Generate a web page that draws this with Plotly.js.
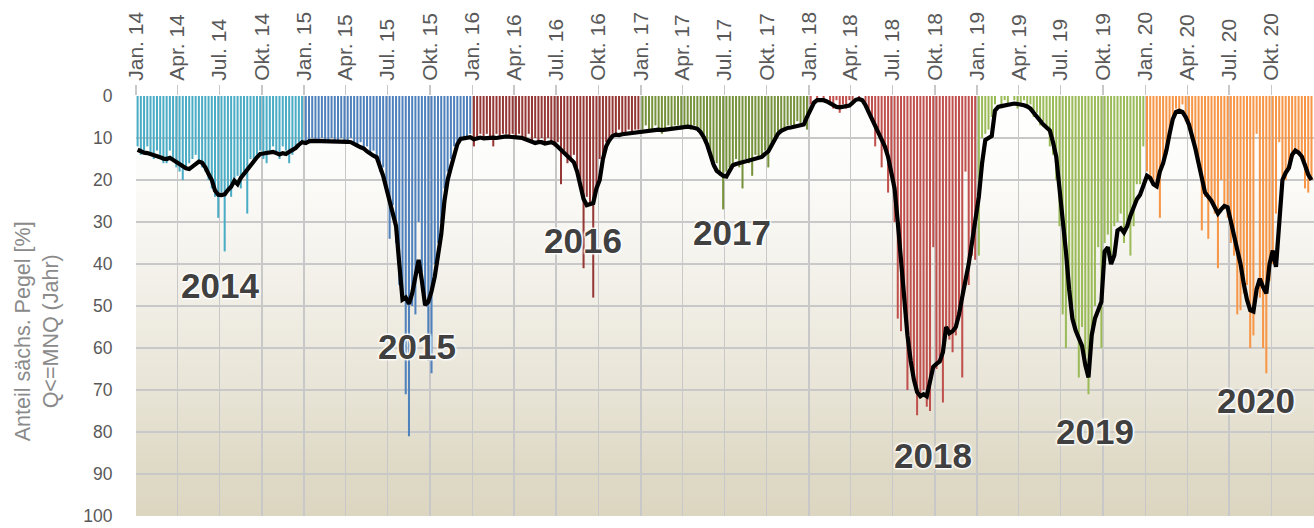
<!DOCTYPE html>
<html>
<head>
<meta charset="utf-8">
<script src="https://cdn.plot.ly/plotly-3.0.1.min.js"></script>
<style>
  html, body { margin: 0; padding: 0; background: #ffffff; }
  #wrap { position: relative; width: 1314px; height: 528px; }
  #bg { position: absolute; left: 136px; top: 96px; width: 1178px; height: 420px;
        background: linear-gradient(to bottom, #ffffff 0%, #fcfcfa 18%, #f3f1ea 42%, #e9e5d8 68%, #dfdac6 88%, #dcd6c1 100%); }
  #chart { position: absolute; left: 0; top: 0; width: 1314px; height: 528px; }
</style>
</head>
<body>
<div id="wrap"><div id="bg"></div><div id="chart"></div></div>
<script>
// ---------------- DATA (weekly values, % of Saxon gauges with Q <= MNQ) ----------------
const years = [2014, 2015, 2016, 2017, 2018, 2019, 2020];
const quarterNames = ['Jan.', 'Apr.', 'Jul.', 'Okt.'];
const yTicks = [0, 10, 20, 30, 40, 50, 60, 70, 80, 90, 100];

const bars2014 = [12,14,13,12,14,15,13,14,16,16,13,15,17,18,20,17,16,15,14,16,17,18,20,22,24,29,23,37,22,24,21,19,22,18,28,15,16,14,13,15,16,13,12,14,15,12,13,16,14,12,11,11];
const bars2015 = [11,11,10,11,11,10,11,11,10,11,11,10,11,11,10,11,12,11,13,12,14,13,15,18,17,22,34,26,35,45,48,71,81,50,52,30,42,50,63,66,40,35,30,22,18,15,12,11,10,10,10,9];
const bars2016 = [12,10,9,10,9,10,12,9,10,9,9,10,9,10,9,10,10,9,11,10,11,10,11,10,11,12,11,21,13,16,15,14,17,20,41,24,26,48,22,15,14,11,10,9,9,8,9,9,8,9,8,8];
const bars2017 = [8,7,8,8,7,8,9,8,7,8,7,7,8,7,7,8,7,8,9,10,12,14,17,16,19,27,18,17,16,15,17,22,15,16,19,14,15,14,13,17,12,10,9,8,8,7,7,7,6,7,6,8];
const bars2018 = [2,0,1,0,1,0,2,3,1,4,2,3,1,2,0,1,0,2,4,6,12,9,17,13,23,19,30,53,56,47,70,63,68,76,72,70,74,75,36,65,62,73,55,58,61,57,52,67,18,45,38,39];
const bars2019 = [38,10,9,8,5,2,0,3,1,2,0,1,3,2,1,3,2,5,4,7,6,8,12,14,20,31,52,60,45,50,56,67,55,62,71,58,50,36,60,35,33,38,31,30,28,35,30,38,31,21,21,12];
const bars2020 = [18,20,21,22,29,16,14,10,6,3,4,2,6,8,10,13,17,32,24,34,25,28,41,20,27,29,35,38,52,51,47,45,60,57,9,48,60,66,44,40,28,11,22,20,16,14,13,14,15,22,23,20];

const line2014 = [12.8,13.2,13.5,13.6,13.8,14.0,14.3,14.6,14.9,15.0,14.7,15.2,15.8,16.3,16.8,17.2,17.4,16.8,16.0,15.6,15.9,17.0,18.6,20.0,22.5,23.5,23.6,23.4,22.4,21.6,20.2,21.0,19.5,18.6,17.5,16.6,15.6,14.6,13.8,13.7,13.6,13.5,13.3,13.6,13.9,13.6,13.8,13.3,12.8,12.4,11.6,11.0];
const line2015 = [11.2,10.8,10.7,10.7,10.7,10.7,10.7,10.7,10.7,10.7,10.7,10.7,10.8,10.9,11.0,11.3,11.8,12.2,12.5,13.2,13.8,14.2,14.6,16.5,19.0,22.0,25.0,27.0,31.0,40.0,48.5,48.0,49.5,47.0,43.0,39.0,44.0,49.8,49.0,46.5,43.0,38.0,33.0,25.0,20.0,17.0,14.0,11.5,10.2,10.0,9.8,9.8];
const line2016 = [10.3,10.0,9.9,10.1,10.0,9.8,9.9,10.0,9.8,9.7,9.6,9.7,9.7,9.8,9.9,10.0,10.3,10.6,10.8,11.2,11.0,11.0,11.3,11.2,11.0,11.3,12.0,12.8,13.5,14.3,15.0,15.8,18.0,21.0,24.5,26.0,25.8,25.5,22.0,20.0,15.0,12.0,10.5,9.5,9.2,9.3,9.1,9.0,8.9,8.8,8.7,8.5];
const line2017 = [8.3,8.3,8.2,8.1,8.0,8.0,8.1,8.0,7.8,7.7,7.6,7.5,7.4,7.3,7.3,7.4,7.5,7.8,8.6,9.8,11.5,14.0,16.3,17.8,18.5,19.0,19.2,17.8,16.5,16.2,16.0,15.8,15.6,15.3,15.0,14.8,14.6,14.5,13.8,13.2,11.8,10.2,9.0,8.3,7.9,7.6,7.5,7.3,7.2,7.0,6.8,5.0];
const line2018 = [3.0,1.6,1.0,0.9,1.0,1.3,1.8,2.3,2.6,2.7,2.6,2.5,2.3,1.6,0.9,0.7,1.0,2.2,3.8,5.5,7.2,8.7,10.0,12.0,14.5,18.0,22.0,30.0,39.0,49.0,57.0,63.0,67.5,70.5,71.5,71.0,71.5,68.0,64.5,63.8,63.2,61.0,55.0,56.5,56.0,55.0,52.0,47.8,44.0,40.0,35.0,30.0];
const line2019 = [24.0,16.0,10.5,10.0,9.5,3.5,2.6,2.4,2.2,2.0,1.8,1.8,1.9,2.0,2.2,2.5,3.0,4.0,5.0,6.0,6.8,7.5,8.2,11.0,14.5,22.0,29.0,37.0,46.0,53.0,55.8,57.5,59.5,64.0,67.0,57.0,53.0,51.0,49.0,37.0,36.0,40.0,38.0,32.0,31.5,32.5,31.0,28.5,26.5,24.6,23.5,21.5];
const line2020 = [19.0,19.5,21.0,21.5,18.0,16.0,13.0,9.0,5.5,3.8,3.5,3.8,5.0,6.8,9.5,12.5,16.0,20.0,23.0,24.0,25.0,26.5,28.0,27.0,26.2,26.5,30.0,33.0,36.0,40.0,44.7,48.5,51.0,51.3,46.0,43.5,45.5,47.0,40.0,36.8,40.7,30.0,20.0,18.3,17.1,14.0,13.0,13.5,14.4,16.5,18.7,20.0];

// ---------------- STYLE ----------------
const yearColors = ['#4bacc6', '#4f81bd', '#953735', '#76923c', '#c0504d', '#9bbb59', '#f79646'];
const yearLabelPos = [
  ['2014-07-03', 45.2], ['2015-09-02', 59.6], ['2016-08-29', 34.3], ['2017-07-17', 32.4],
  ['2018-09-28', 85.5], ['2019-09-14', 79.9], ['2020-08-28', 72.4]
];

const barsByYear = [bars2014, bars2015, bars2016, bars2017, bars2018, bars2019, bars2020];
const lineByYear = [line2014, line2015, line2016, line2017, line2018, line2019, line2020];
const DAY = 86400000;

function weekDate(year, i) {
  const ms = Date.UTC(year, 0, 1) + (7 * i + 3.5) * DAY;
  return new Date(ms).toISOString().slice(0, 19).replace('T', ' ');
}

const traces = [];
years.forEach((y, k) => {
  const vals = barsByYear[k];
  traces.push({
    type: 'bar',
    x: vals.map((v, i) => weekDate(y, i)),
    y: vals,
    width: vals.map(() => 4.4 * DAY),
    marker: { color: yearColors[k], line: { width: 0 } },
    hoverinfo: 'skip',
    showlegend: false
  });
});

const lx = [], ly = [];
years.forEach((y, k) => {
  lineByYear[k].forEach((v, i) => { lx.push(weekDate(y, i)); ly.push(v); });
});
traces.push({
  type: 'scatter', mode: 'lines', x: lx, y: ly,
  line: { color: '#000000', width: 4.2, shape: 'linear' },
  hoverinfo: 'skip', showlegend: false
});

const tickvals = [], ticktext = [];
years.forEach(y => {
  [0, 3, 6, 9].forEach((m, q) => {
    tickvals.push(new Date(Date.UTC(y, m, 1)).toISOString().slice(0, 10));
    ticktext.push(quarterNames[q] + ' ' + String(y).slice(2));
  });
});

const annotations = years.map((y, k) => ({
  x: yearLabelPos[k][0], y: yearLabelPos[k][1], xref: 'x', yref: 'y',
  text: String(y), showarrow: false, xanchor: 'center', yanchor: 'middle',
  font: { family: 'Liberation Sans, Arial, sans-serif', size: 35, color: '#404040', weight: 'bold',
          shadow: '1px 1px 2px #ffffff, -1px -1px 2px #ffffff, 1px -1px 2px #ffffff, -1px 1px 2px #ffffff' }
}));
annotations.push({
  xref: 'paper', yref: 'paper', x: -0.084, y: 0.44, xanchor: 'center', yanchor: 'middle',
  text: 'Anteil sächs. Pegel [%]<br>Q<=MNQ (Jahr)', textangle: -90, showarrow: false,
  font: { family: 'Liberation Sans, Arial, sans-serif', size: 21.5, color: '#8a8a8a' }
});

const layout = {
  width: 1314, height: 528,
  margin: { l: 136, r: 0, t: 96, b: 12, pad: 0 },
  paper_bgcolor: 'rgba(0,0,0,0)', plot_bgcolor: 'rgba(0,0,0,0)',
  barmode: 'overlay',
  font: { family: 'Liberation Sans, Arial, sans-serif', color: '#595959' },
  xaxis: {
    type: 'date', range: ['2014-01-01', '2021-01-01'], side: 'top',
    tickmode: 'array', tickvals: tickvals, ticktext: ticktext, tickangle: -90,
    tickfont: { size: 21, color: '#595959' },
    ticks: 'outside', ticklen: 10, tickcolor: '#c8c8c8', tickwidth: 1.5,
    showgrid: true, gridcolor: '#c8c8c8', gridwidth: 1.5,
    zeroline: false, showline: false, fixedrange: true, ticklabeloverflow: 'allow'
  },
  yaxis: {
    range: [100, 0], tickmode: 'array', tickvals: yTicks,
    tickfont: { size: 17.5, color: '#595959' },
    ticks: 'outside', ticklen: 19, tickcolor: 'rgba(0,0,0,0)',
    showgrid: true, gridcolor: '#c8c8c8', gridwidth: 1.5,
    zeroline: false, showline: false, fixedrange: true, ticklabeloverflow: 'allow'
  },
  annotations: annotations
};

Plotly.newPlot('chart', traces, layout, { displayModeBar: false, staticPlot: true });
</script>
</body>
</html>
